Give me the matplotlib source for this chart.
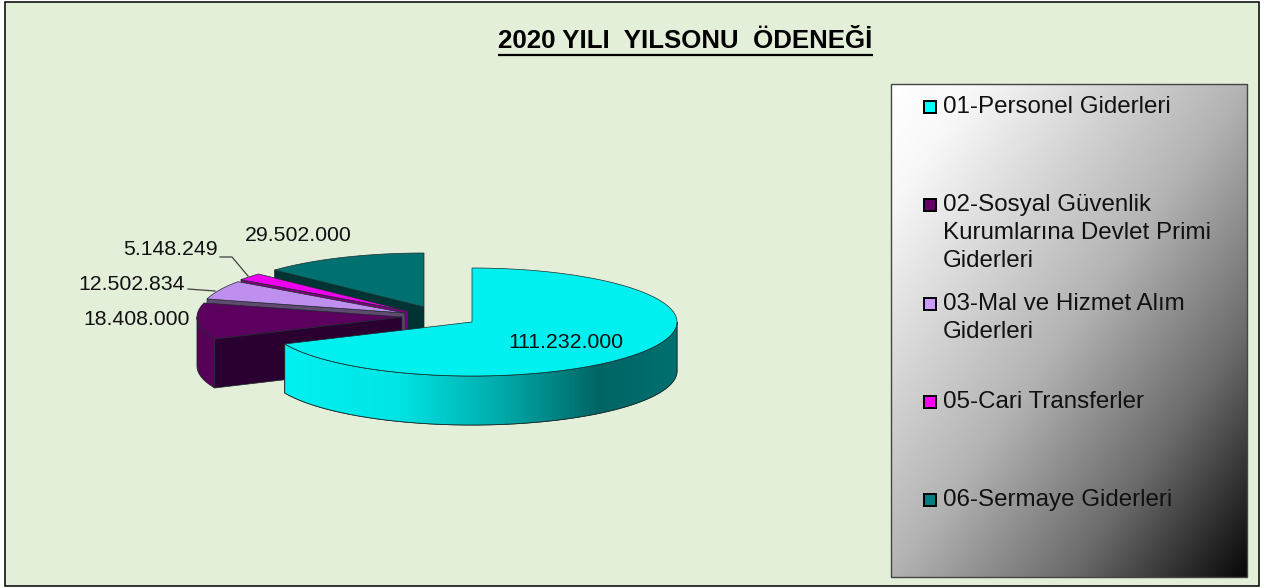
import numpy as np
import matplotlib
matplotlib.use("Agg")
import matplotlib.pyplot as plt
from matplotlib.patches import Polygon, Rectangle
from matplotlib.colors import LinearSegmentedColormap

# ---- data ----
categories = ["01-Personel Giderleri",
              "02-Sosyal Güvenlik\nKurumlarına Devlet Primi\nGiderleri",
              "03-Mal ve Hizmet Alım\nGiderleri",
              "05-Cari Transferler",
              "06-Sermaye Giderleri"]
values = [111232000, 18408000, 12502834, 5148249, 29502000]
title = "2020 YILI  YILSONU  ÖDENEĞİ"

# ---- style ----
top_colors = ["#00F0F0", "#5C0060", "#BF8FEF", "#F000F0", "#007070"]
wall_colors = ["#00F0F0", "#560058", "#6A4F80", "#7F007F", "#003333"]
face_colors = ["#00F0F0", "#2A0030", "#5F4A70", "#7F007F", "#003333"]
swatch_colors = ["#00FFFF", "#660066", "#CC99FF", "#FF00FF", "#008080"]
centers = [(472, 322), (402, 317), (405, 313), (408, 311), (424, 307)]
RX, RY, DEPTH = 205, 54, 49
BG = "#E3EFD9"
FONT = "Liberation Sans"
EDGE = "#1c2c2c"

W, H = 1264, 588
fig = plt.figure(figsize=(W / 100, H / 100), dpi=100, facecolor="white")
ax = fig.add_axes([0, 0, 1, 1])
ax.set_xlim(0, W)
ax.set_ylim(H, 0)
ax.axis("off")

ax.add_patch(Rectangle((4.5, 2), 1254, 584, fc=BG, ec="#111111", lw=1.2, zorder=0))


def warp(theta):
    """Perspective of the 3-D pie: true sweep angle to angle on the ellipse."""
    t = np.radians(theta)
    return theta - 20.2 * np.sin(t) + 4.85 * np.sin(2 * t)


def pt(center, phi, dz=0.0):
    p = np.radians(phi)
    return np.column_stack([center[0] + RX * np.sin(p),
                            center[1] - RY * np.cos(p) + dz])


fractions = np.array(values, float) / sum(values)
bounds = np.concatenate([[0], np.cumsum(fractions) * 360])
phis = warp(bounds)

cyan_cmap = LinearSegmentedColormap.from_list(
    "cw", [(0, "#00F0F0"), (0.28, "#00E6E6"), (0.56, "#00A8A8"),
           (0.80, "#006464"), (1, "#007070")])

z = 2
for i in [4, 3, 2, 1, 0]:
    c = centers[i]
    p1, p2 = phis[i], phis[i + 1]
    arc = pt(c, np.linspace(p1, p2, 200))
    # cut face at the start edge
    if p1 > 1:
        outer = pt(c, np.array([p1]))[0]
        face = [c, outer, (outer[0], outer[1] + DEPTH), (c[0], c[1] + DEPTH)]
        ax.add_patch(Polygon(face, closed=True, fc=face_colors[i], ec=EDGE, lw=0.5, zorder=z))
    # outer wall
    lo, hi = max(p1, 90), min(p2, 270)
    if hi > lo:
        ph = np.linspace(lo, hi, 200)
        up = pt(c, ph)
        dn = pt(c, ph, DEPTH)
        wall = np.vstack([up, dn[::-1]])
        poly = Polygon(wall, closed=True, fc=wall_colors[i], ec=EDGE, lw=0.6, zorder=z)
        ax.add_patch(poly)
        if i == 0:
            gx0, gx1 = wall[:, 0].min(), wall[:, 0].max()
            grad = np.linspace(0, 1, 512)[None, :]
            im = ax.imshow(grad, extent=[gx0, gx1, H, 0], cmap=cyan_cmap, vmin=0, vmax=1,
                           aspect="auto", zorder=z + 0.1)
            im.set_clip_path(poly)
            ax.add_patch(Polygon(wall, closed=True, fc="none", ec=EDGE, lw=0.6, zorder=z + 0.2))
    # top surface
    ax.add_patch(Polygon(np.vstack([[c], arc]), closed=True, fc=top_colors[i], ec=EDGE,
                         lw=0.5, zorder=z + 0.5))
    z += 1
ax.set_xlim(0, W)
ax.set_ylim(H, 0)

# data labels
fmt = [f"{v:,}".replace(",", ".") for v in values]
label_pos = [(566, 342.5), (137, 319.5), (131.5, 284.5), (170, 249.5), (298, 235.5)]
for s, (x, y) in zip(fmt, label_pos):
    ax.text(x, y, s, ha="center", va="center", fontsize=15.3, family=FONT, color="#111111", zorder=20)

# leader lines
ax.plot([220, 232, 248], [257, 257, 276], color="#404040", lw=0.9, zorder=20)
ax.plot([188, 215], [289, 291], color="#404040", lw=0.9, zorder=20)

# title
ax.text(685.5, 41, title, ha="center", va="center", fontsize=18.6, fontweight="bold",
        family=FONT, color="black", zorder=20)
ax.plot([498, 873], [55, 55], color="black", lw=1.6, zorder=20, solid_capstyle="butt")

# legend box with diagonal gradient
lx0, ly0, lx1, ly1 = 891, 84, 1247, 577
u, v = np.meshgrid(np.linspace(0, 1, 400), np.linspace(0, 1, 400))
t = (u + v) / 2
shade = np.interp(t, [0, 0.12, 0.5, 0.75, 1], [1, 0.97, 0.70, 0.42, 0.03])
ax.imshow(shade, extent=[lx0, lx1, ly1, ly0], cmap="gray", vmin=0, vmax=1,
          aspect="auto", zorder=15)
ax.add_patch(Rectangle((lx0, ly0), lx1 - lx0, ly1 - ly0, fc="none", ec="#444444", lw=1.0, zorder=16))
ax.set_xlim(0, W)
ax.set_ylim(H, 0)

legend_y = [105, 203, 302, 400, 498]
LINE = 28
for name, col, y in zip(categories, swatch_colors, legend_y):
    ax.add_patch(Rectangle((924, y - 4.5), 12, 12, fc=col, ec="black", lw=1.4, zorder=17))
    for k, line in enumerate(name.split("\n")):
        ax.text(943, y + 2 + k * LINE, line, ha="left", va="center", fontsize=17.4, family=FONT,
                color="#111111", zorder=17)

fig.savefig("out.png", dpi=100)
